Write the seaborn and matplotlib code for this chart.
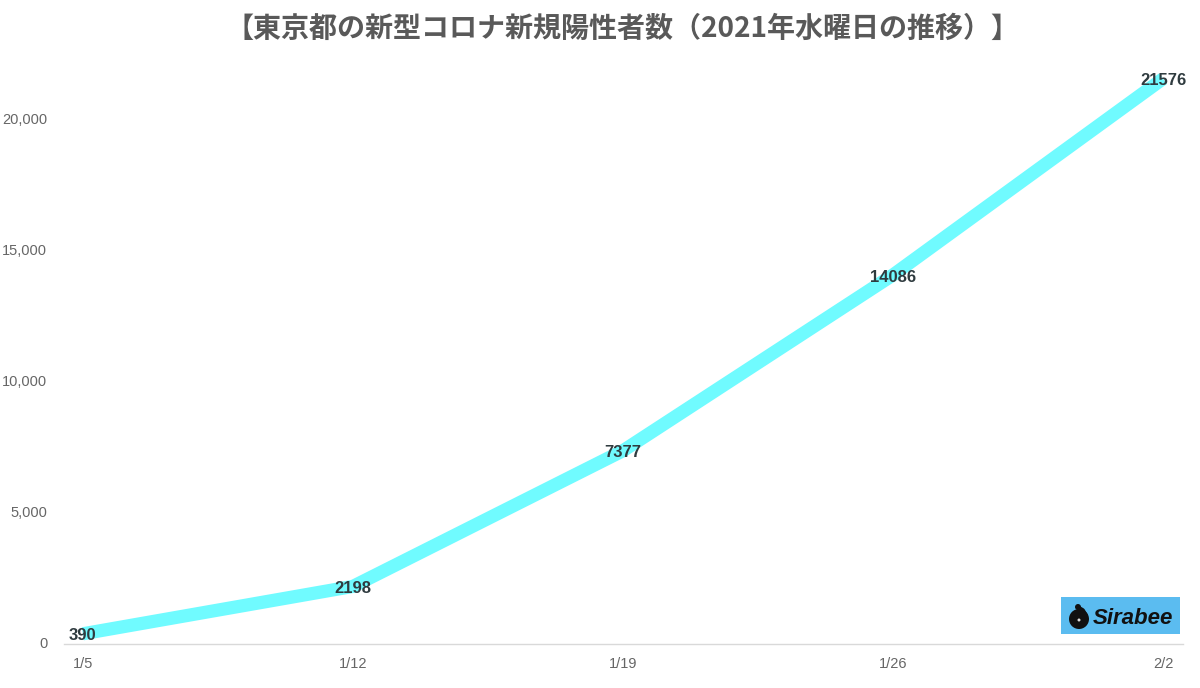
import matplotlib
matplotlib.use('Agg')
import matplotlib.pyplot as plt
from matplotlib.lines import Line2D
from matplotlib.patches import Circle, Rectangle
import pandas as pd
import seaborn as sns

dates = ['1/5', '1/12', '1/19', '1/26', '2/2']
cases = [390, 2198, 7377, 14086, 21576]
y_ticks = [0, 5000, 10000, 15000, 20000]
title = '【東京都の新型コロナ新規陽性者数（2021年水曜日の推移）】'

sns.set_style('white')
plt.rcParams['font.family'] = ['Liberation Sans', 'DejaVu Sans']

df = pd.DataFrame({'date': dates, 'cases': cases})

fig = plt.figure(figsize=(12, 6.88), dpi=100)
ax = fig.add_axes([64 / 1200, 1 - 644 / 688, (1183 - 64) / 1200, (644 - 55) / 688])

sns.lineplot(data=df, x='date', y='cases', sort=False, color='#70fbff', linewidth=9.5,
             solid_capstyle='butt', solid_joinstyle='round', ax=ax, clip_on=False)

for i, v in enumerate(cases):
    ax.annotate(str(v), (i, v), xytext=(0, -1.5), textcoords='offset points', ha='center', va='center',
                fontsize=12, fontweight='bold', color='#2f3b3f')

ax.set_xlim(-0.07, 4.074)
ax.set_ylim(0, 22481)
ax.set_yticks(y_ticks)
ax.set_yticklabels([f'{t:,}' for t in y_ticks], va='center')
ax.set_xlabel('')
ax.set_ylabel('')
ax.tick_params(axis='both', length=0, labelsize=10.5, labelcolor='#666666')
ax.tick_params(axis='x', pad=9)
ax.tick_params(axis='y', pad=12)
sns.despine(ax=ax, left=True)
ax.spines['bottom'].set_color('#d9d9d9')
ax.spines['bottom'].set_linewidth(1)

fig.text(622 / 1200, 1 - 29 / 688, title, ha='center', va='center', fontsize=20.2, fontweight='bold',
         color='#595959', family=['Noto Sans CJK JP', 'DejaVu Sans'])

# Sirabee logo in the corner
fig.add_artist(Rectangle((1061 / 1200, 1 - 634 / 688), 119 / 1200, 37 / 688, transform=fig.transFigure,
                         facecolor='#5bbcf0', edgecolor='none'))
fig.add_artist(Circle((1079, 688 - 619), 10, transform=None, facecolor='#111111', edgecolor='none'))
fig.add_artist(Circle((1078, 688 - 607), 3, transform=None, facecolor='#111111', edgecolor='none'))
fig.add_artist(Line2D([1078, 1083, 1086], [688 - 607, 688 - 610, 688 - 615], transform=None,
                      color='#111111', linewidth=2.5))
fig.add_artist(Circle((1079, 688 - 620), 1.5, transform=None, facecolor='#dddddd', edgecolor='none'))
fig.text(1133 / 1200, 1 - 618 / 688, 'Sirabee', ha='center', va='center', fontsize=16, fontweight='bold',
         fontstyle='italic', color='#111111', family=['Liberation Sans', 'DejaVu Sans'])

fig.savefig('out.png', dpi=100)
